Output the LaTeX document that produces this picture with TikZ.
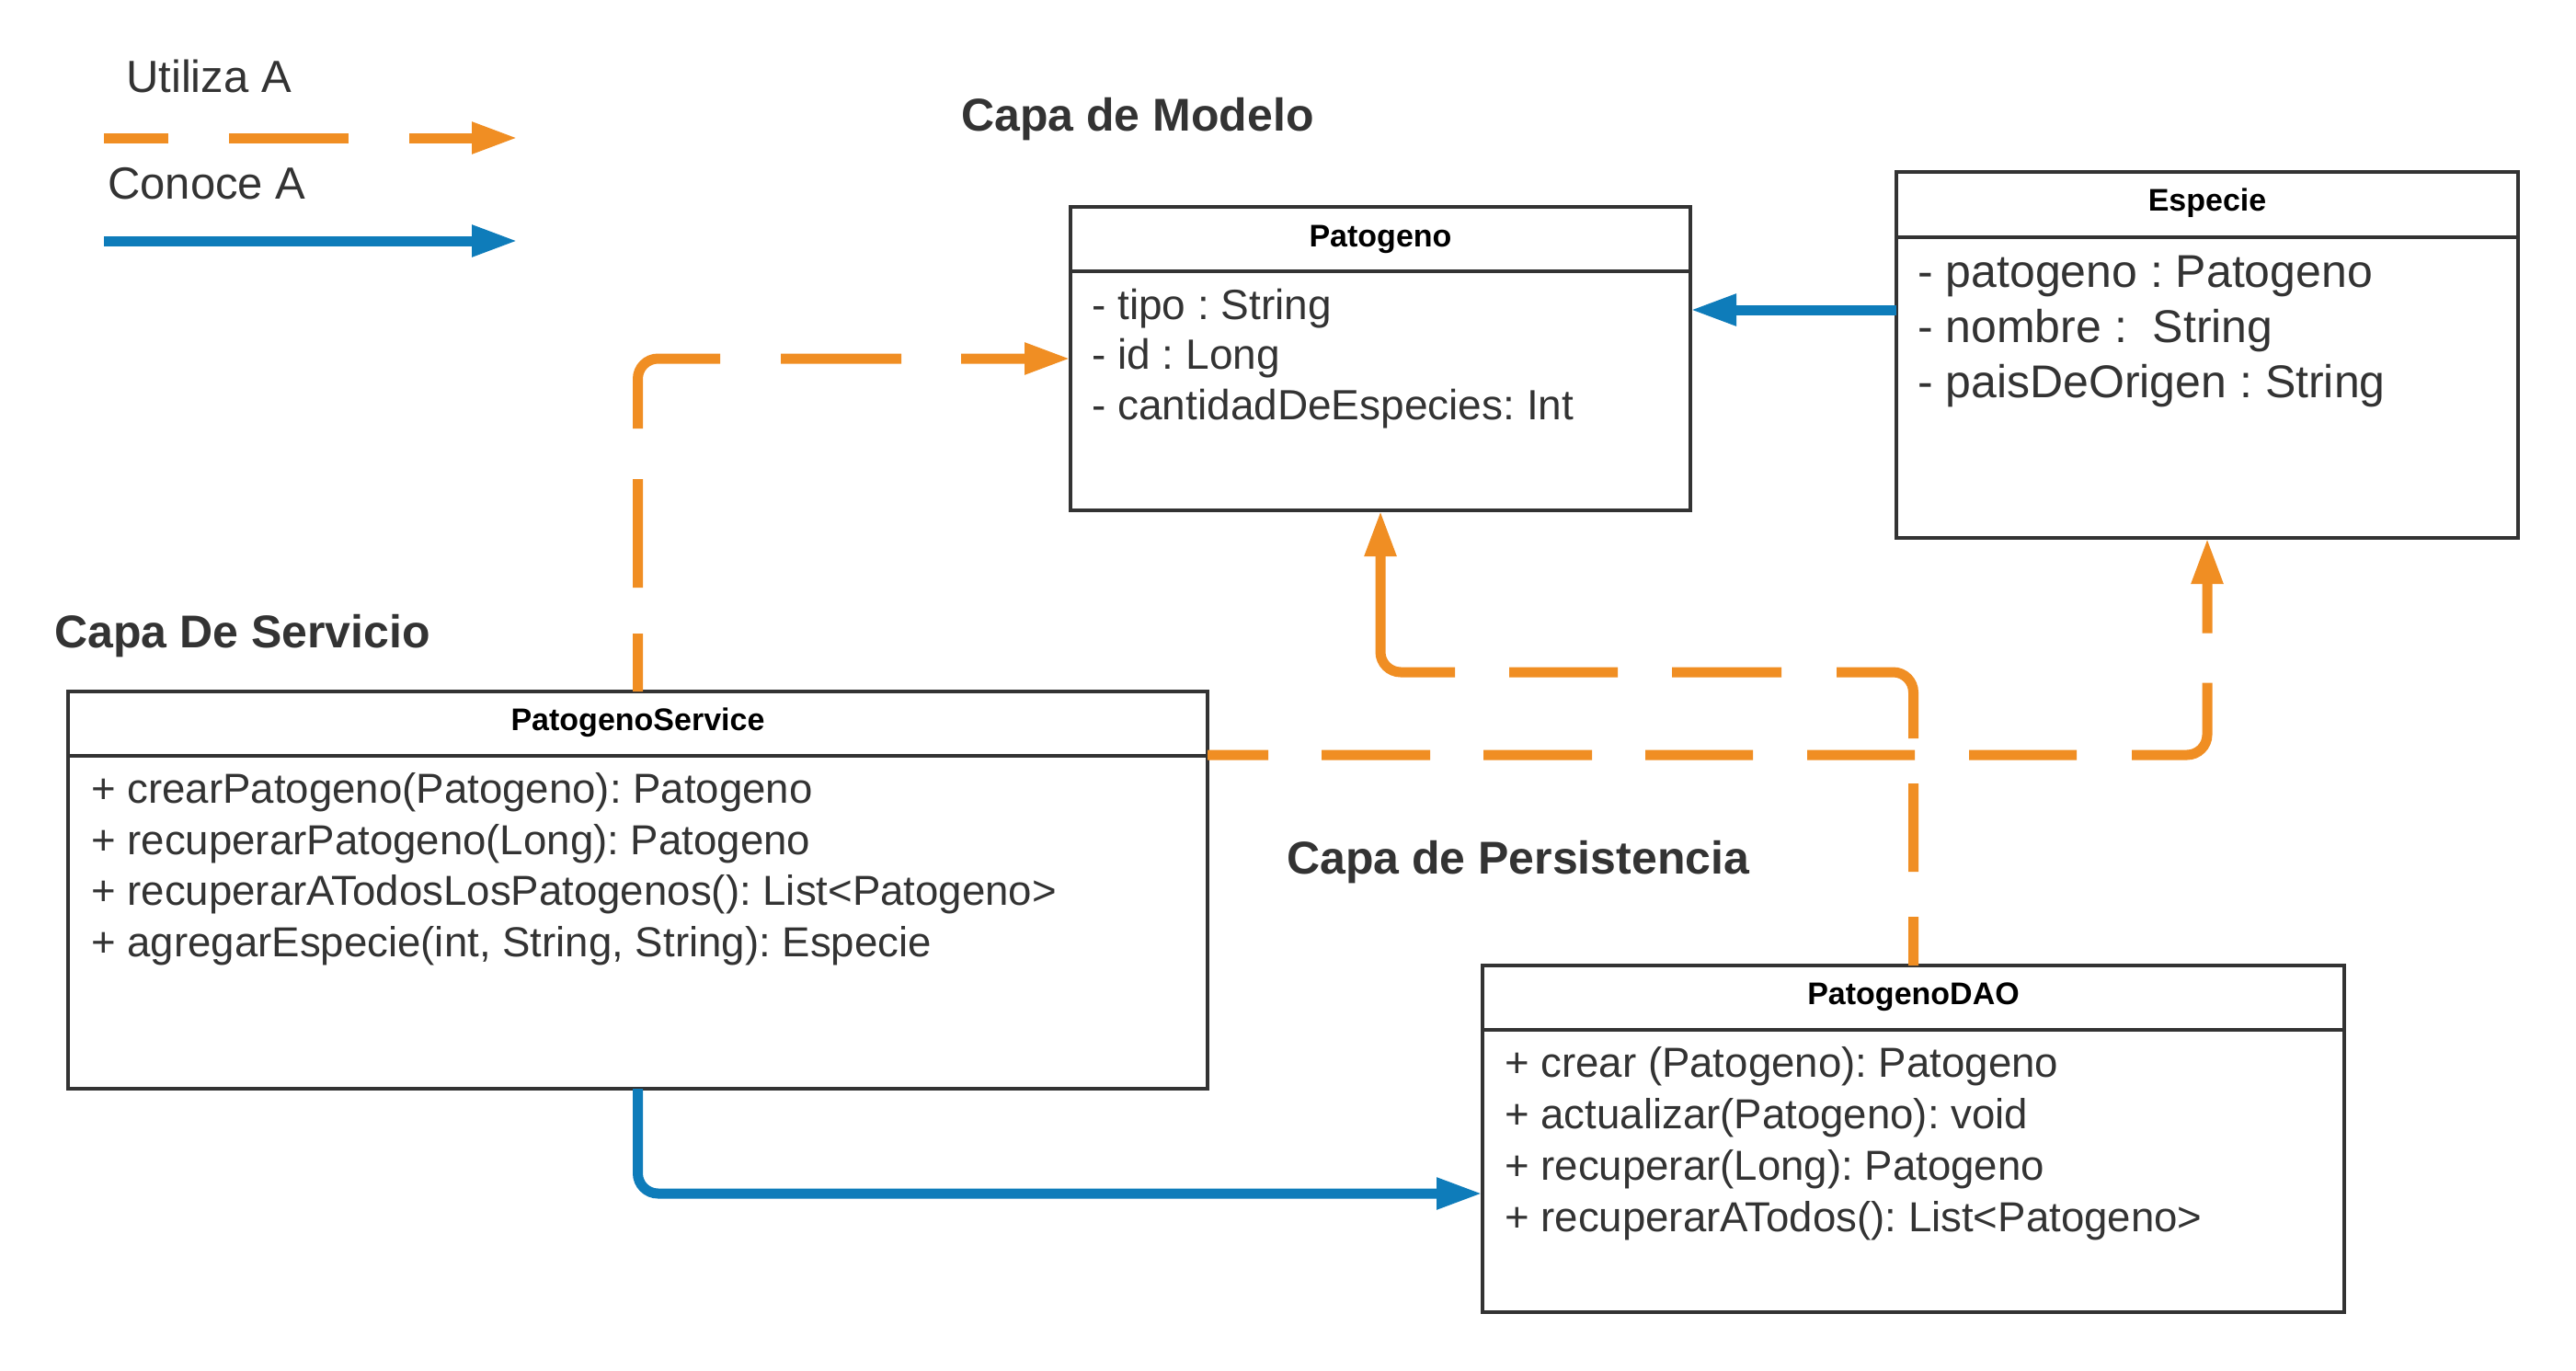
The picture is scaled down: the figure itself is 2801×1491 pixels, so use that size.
\documentclass[tikz,border=0pt]{standalone}
\usepackage{fontspec}
\setmainfont{Liberation Sans}
\usetikzlibrary{arrows.meta,calc}
\definecolor{uorange}{RGB}{240,142,35}
\definecolor{ublue}{RGB}{14,124,186}
\definecolor{ugray}{RGB}{51,51,51}
\frenchspacing
\begin{document}
\begin{tikzpicture}[x=1pt,y=-1pt,
  classbox/.style={draw=ugray, line width=4pt, fill=white, rectangle, inner sep=0pt, outer sep=0pt, anchor=north west},
  sepline/.style={draw=ugray, line width=4pt},
  ctitle/.style={anchor=base, inner sep=0pt, font=\fontsize{34}{40}\selectfont\bfseries, text=black},
  member/.style={anchor=base west, inner sep=0pt, text=ugray, font=\fontsize{45.6}{55}\selectfont},
  pattr/.style={anchor=base west, inner sep=0pt, text=ugray, font=\fontsize{46}{55}\selectfont},
  eattr/.style={anchor=base west, inner sep=0pt, text=ugray, font=\fontsize{50}{60}\selectfont},
  layer/.style={anchor=base west, inner sep=0pt, text=ugray, font=\fontsize{50}{60}\selectfont\bfseries},
  legend/.style={anchor=base west, inner sep=0pt, text=ugray, font=\fontsize{49}{58}\selectfont},
  uses/.style={draw=uorange, line width=11pt, rounded corners=22pt, -{Triangle[length=50pt,width=32pt]}},
  knows/.style={draw=ublue, line width=11pt, rounded corners=22pt, -{Triangle[length=50pt,width=32pt]}}
]
\useasboundingbox[fill=white] (0,0) rectangle (2801,1491);

% legend
\node[legend] (lu) at (137,100) {Utiliza A};
\coordinate (lua) at (113,150);
\coordinate (lub) at (563,150);
\draw[uses, dash pattern=on 70pt off 66pt on 130pt off 66pt on 1000pt] (lua) -- (lub);
\node[legend] (lc) at (117,216) {Conoce A};
\coordinate (lca) at (113,262);
\coordinate (lcb) at (563,262);
\draw[knows] (lca) -- (lcb);

% layer titles
\node[layer] (tm) at (1045,142) {Capa de Modelo};
\node[layer] (ts) at (59,704) {Capa De Servicio};
\node[layer] (tp) at (1399,950) {Capa de Persistencia};

% Patogeno
\node[classbox, minimum width=674pt, minimum height=330pt] (pat) at (1164,225) {};
\draw[sepline] ($(pat.north west)+(0,70)$) -- ($(pat.north east)+(0,70)$);
\node[ctitle] (patt) at (1501,268) {Patogeno};
\node[pattr] (pa1) at (1187,347) {- tipo : String};
\node[pattr] (pa2) at (1187,401.5) {- id : Long};
\node[pattr] (pa3) at (1187,456) {- cantidadDeEspecies: Int};

% Especie
\node[classbox, minimum width=676pt, minimum height=398pt] (esp) at (2062,187) {};
\draw[sepline] ($(esp.north west)+(0,71)$) -- ($(esp.north east)+(0,71)$);
\node[ctitle] (espt) at (2400,229) {Especie};
\node[eattr] (ea1) at (2085,312.5) {- patogeno : Patogeno};
\node[eattr] (ea2) at (2085,372.5) {- nombre :\ \ String};
\node[eattr] (ea3) at (2085,432.5) {- paisDeOrigen : String};

% PatogenoService
\node[classbox, minimum width=1239pt, minimum height=432pt] (svc) at (74,752) {};
\draw[sepline] ($(svc.north west)+(0,70)$) -- ($(svc.north east)+(0,70)$);
\node[ctitle] (svct) at (693.5,794) {PatogenoService};
\node[member] (sm1) at (99,873.5) {+ crearPatogeno(Patogeno): Patogeno};
\node[member] (sm2) at (99,929) {+ recuperarPatogeno(Long): Patogeno};
\node[member] (sm3) at (99,984.5) {+ recuperarATodosLosPatogenos(): List<Patogeno>};
\node[member] (sm4) at (99,1040) {+ agregarEspecie(int, String, String): Especie};

% PatogenoDAO
\node[classbox, minimum width=937pt, minimum height=377pt] (dao) at (1612,1050) {};
\draw[sepline] ($(dao.north west)+(0,70)$) -- ($(dao.north east)+(0,70)$);
\node[ctitle] (daot) at (2080.5,1092) {PatogenoDAO};
\node[member] (dm1) at (1636,1171.5) {+ crear (Patogeno): Patogeno};
\node[member] (dm2) at (1636,1227.5) {+ actualizar(Patogeno): void};
\node[member] (dm3) at (1636,1283.5) {+ recuperar(Long): Patogeno};
\node[member] (dm4) at (1636,1339.5) {+ recuperarATodos(): List<Patogeno>};

% connectors
\draw[uses, dash pattern=on 63pt off 50pt on 118pt off 55pt on 156pt off 66pt on 131pt off 65pt on 1000pt]
  (svc.north) |- (pat.west);
\coordinate (s2) at ($(svc.north east)+(0,69)$);
\draw[uses, dash pattern=on 66pt off 58pt on 118pt off 58pt on 118pt off 58pt on 117pt off 59pt on 117pt off 59pt on 117pt off 60pt on 151pt off 54pt on 1000pt]
  (s2) -| (esp.south);
\coordinate (d3) at ($(dao.north)+(0,-319)$);
\draw[uses, dash pattern=on 53pt off 49pt on 96pt off 49pt on 146pt off 60pt on 119pt off 59pt on 118pt off 59pt on 1000pt]
  (dao.north) -- (d3) -| (pat.south);
\coordinate (b4) at ($(dao.west)+(0,59.5)$);
\draw[knows] (svc.south) |- (b4);
\coordinate (e1) at ($(esp.west)+(0,-49)$);
\draw[knows] (e1) -- (pat.east |- e1);
\end{tikzpicture}
\end{document}
